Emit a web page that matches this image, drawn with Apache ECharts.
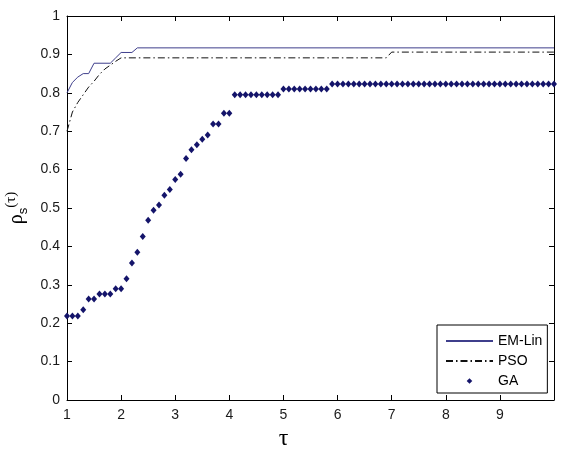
<!DOCTYPE html>
<html>
<head>
<meta charset="utf-8">
<script src="https://cdn.jsdelivr.net/npm/echarts@6/dist/echarts.min.js"></script>
<style>html,body{margin:0;padding:0;background:#fff}#c{width:564px;height:450px}</style>
</head>
<body>
<div id="c"></div>
<script>
// tau sample points for GA
const tau = [1.0,1.1,1.2,1.3,1.4,1.5,1.6,1.7,1.8,1.9,2.0,2.1,2.2,2.3,2.4,2.5,2.6,2.7,2.8,2.9,3.0,
  3.1,3.2,3.3,3.4,3.5,3.6,3.7,3.8,3.9,4.0,4.1,4.2,4.3,4.4,4.5,4.6,4.7,4.8,4.9,5.0,
  5.1,5.2,5.3,5.4,5.5,5.6,5.7,5.8,5.9,6.0,6.1,6.2,6.3,6.4,6.5,6.6,6.7,6.8,6.9,7.0,
  7.1,7.2,7.3,7.4,7.5,7.6,7.7,7.8,7.9,8.0,8.1,8.2,8.3,8.4,8.5,8.6,8.7,8.8,8.9,9.0,
  9.1,9.2,9.3,9.4,9.5,9.6,9.7,9.8,9.9,10.0];
const gaValues = [0.219,0.219,0.219,0.235,0.263,0.263,0.276,0.276,0.276,0.290,0.290,0.316,0.357,0.385,0.426,0.468,0.494,0.508,0.533,0.548,0.574,
  0.588,0.629,0.652,0.665,0.679,0.690,0.719,0.719,0.747,0.747,0.795,0.795,0.795,0.795,0.795,0.795,0.795,0.795,0.795,0.810,
  0.810,0.810,0.810,0.810,0.810,0.810,0.810,0.810,0.823,0.823,0.823,0.823,0.823,0.823,0.823,0.823,0.823,0.823,0.823,0.823,
  0.823,0.823,0.823,0.823,0.823,0.823,0.823,0.823,0.823,0.823,0.823,0.823,0.823,0.823,0.823,0.823,0.823,0.823,0.823,0.823,
  0.823,0.823,0.823,0.823,0.823,0.823,0.823,0.823,0.823,0.823];
// EM-Lin profile (tau, rho)
const emLinTau = [1.0,1.1,1.2,1.3,1.4,1.5,1.8,1.9,2.0,2.2,2.3,10.0];
const emLinRho = [0.800,0.827,0.841,0.850,0.850,0.877,0.877,0.891,0.905,0.905,0.917,0.917];
// PSO profile (tau, rho)
const psoTau = [1.0,1.1,1.2,1.3,1.4,1.5,1.6,1.7,1.8,1.9,2.0,6.9,7.0,10.0];
const psoRho = [0.700,0.750,0.775,0.795,0.815,0.830,0.848,0.862,0.872,0.882,0.891,0.891,0.906,0.906];
const xTicks = [1,2,3,4,5,6,7,8,9];
const seriesNames = ['EM-Lin','PSO','GA'];

const zip = (a,b) => a.map((v,i)=>[v,b[i]]);
const labelFont = {color:'#1a1a1a', fontSize:14, fontFamily:'Liberation Sans'};

const chart = echarts.init(document.getElementById('c'), null, {renderer:'canvas'});
chart.setOption({
  animation:false,
  backgroundColor:'#fff',
  grid:{left:67, right:10, top:16, bottom:50, containLabel:false, outerBoundsMode:'none'},
  xAxis:[{
    type:'value', min:1, max:10, interval:1, position:'bottom',
    name:'τ', nameLocation:'middle', nameGap:27,
    nameTextStyle:{fontSize:24, fontFamily:'Liberation Serif', color:'#000', padding:[0,54,0,0]},
    axisLine:{show:true, onZero:false, lineStyle:{color:'#000', width:1}},
    axisTick:{show:true, inside:true, length:5, lineStyle:{color:'#000'}},
    axisLabel:Object.assign({margin:8, formatter:v => xTicks.includes(v) ? String(v) : ''}, labelFont),
    splitLine:{show:false}
  },{
    type:'value', min:1, max:10, interval:1, position:'top',
    axisLine:{show:true, onZero:false, lineStyle:{color:'#000', width:1}},
    axisTick:{show:true, inside:true, length:5, lineStyle:{color:'#000'}},
    axisLabel:{show:false}, splitLine:{show:false}
  }],
  yAxis:[{
    type:'value', min:0, max:1, interval:0.1, position:'left',
    name:'{r|ρ}{s|s}{t|(τ)}', nameLocation:'middle', nameGap:34, nameRotate:90,
    nameTextStyle:{color:'#000', rich:{
      r:{fontSize:20, fontFamily:'Liberation Serif', lineHeight:26, verticalAlign:'middle', color:'#000'},
      s:{fontSize:13, fontFamily:'Liberation Sans', lineHeight:26, verticalAlign:'bottom', color:'#000'},
      t:{fontSize:15, fontFamily:'Liberation Serif', lineHeight:26, verticalAlign:'top', color:'#000'}
    }},
    axisLine:{show:true, onZero:false, lineStyle:{color:'#000', width:1}},
    axisTick:{show:true, inside:true, length:5, lineStyle:{color:'#000'}},
    axisLabel:Object.assign({margin:7}, labelFont),
    splitLine:{show:false}
  },{
    type:'value', min:0, max:1, interval:0.1, position:'right',
    axisLine:{show:true, onZero:false, lineStyle:{color:'#000', width:1}},
    axisTick:{show:true, inside:true, length:5, lineStyle:{color:'#000'}},
    axisLabel:{show:false}, splitLine:{show:false}
  }],
  legend:{
    orient:'vertical', left:437, top:325,
    padding:[9,5,5,8], itemGap:6, itemWidth:47, itemHeight:7,
    backgroundColor:'#fff', borderColor:'#000', borderWidth:1, borderRadius:0,
    textStyle:{fontSize:14, fontFamily:'Liberation Sans', color:'#000'},
    data:[
      {name:seriesNames[0], itemStyle:{opacity:0}},
      {name:seriesNames[1], itemStyle:{opacity:0}},
      {name:seriesNames[2]}
    ]
  },
  series:[
    {name:seriesNames[0], type:'line', data:zip(emLinTau, emLinRho), showSymbol:false, symbol:'none',
     lineStyle:{color:'#3f3f8c', width:1}, itemStyle:{color:'#3f3f8c'}, z:3},
    {name:seriesNames[1], type:'line', data:zip(psoTau, psoRho), showSymbol:false, symbol:'none',
     lineStyle:{color:'#111', width:1, type:[7,3,1.5,3]}, itemStyle:{color:'#111'}, z:2},
    {name:seriesNames[2], type:'line', data:zip(tau, gaValues), symbol:'diamond', symbolSize:[6,7], showSymbol:true,
     showAllSymbol:true, lineStyle:{width:0, opacity:0}, itemStyle:{color:'#14146a'}, z:4}
  ]
});
</script>
</body>
</html>
